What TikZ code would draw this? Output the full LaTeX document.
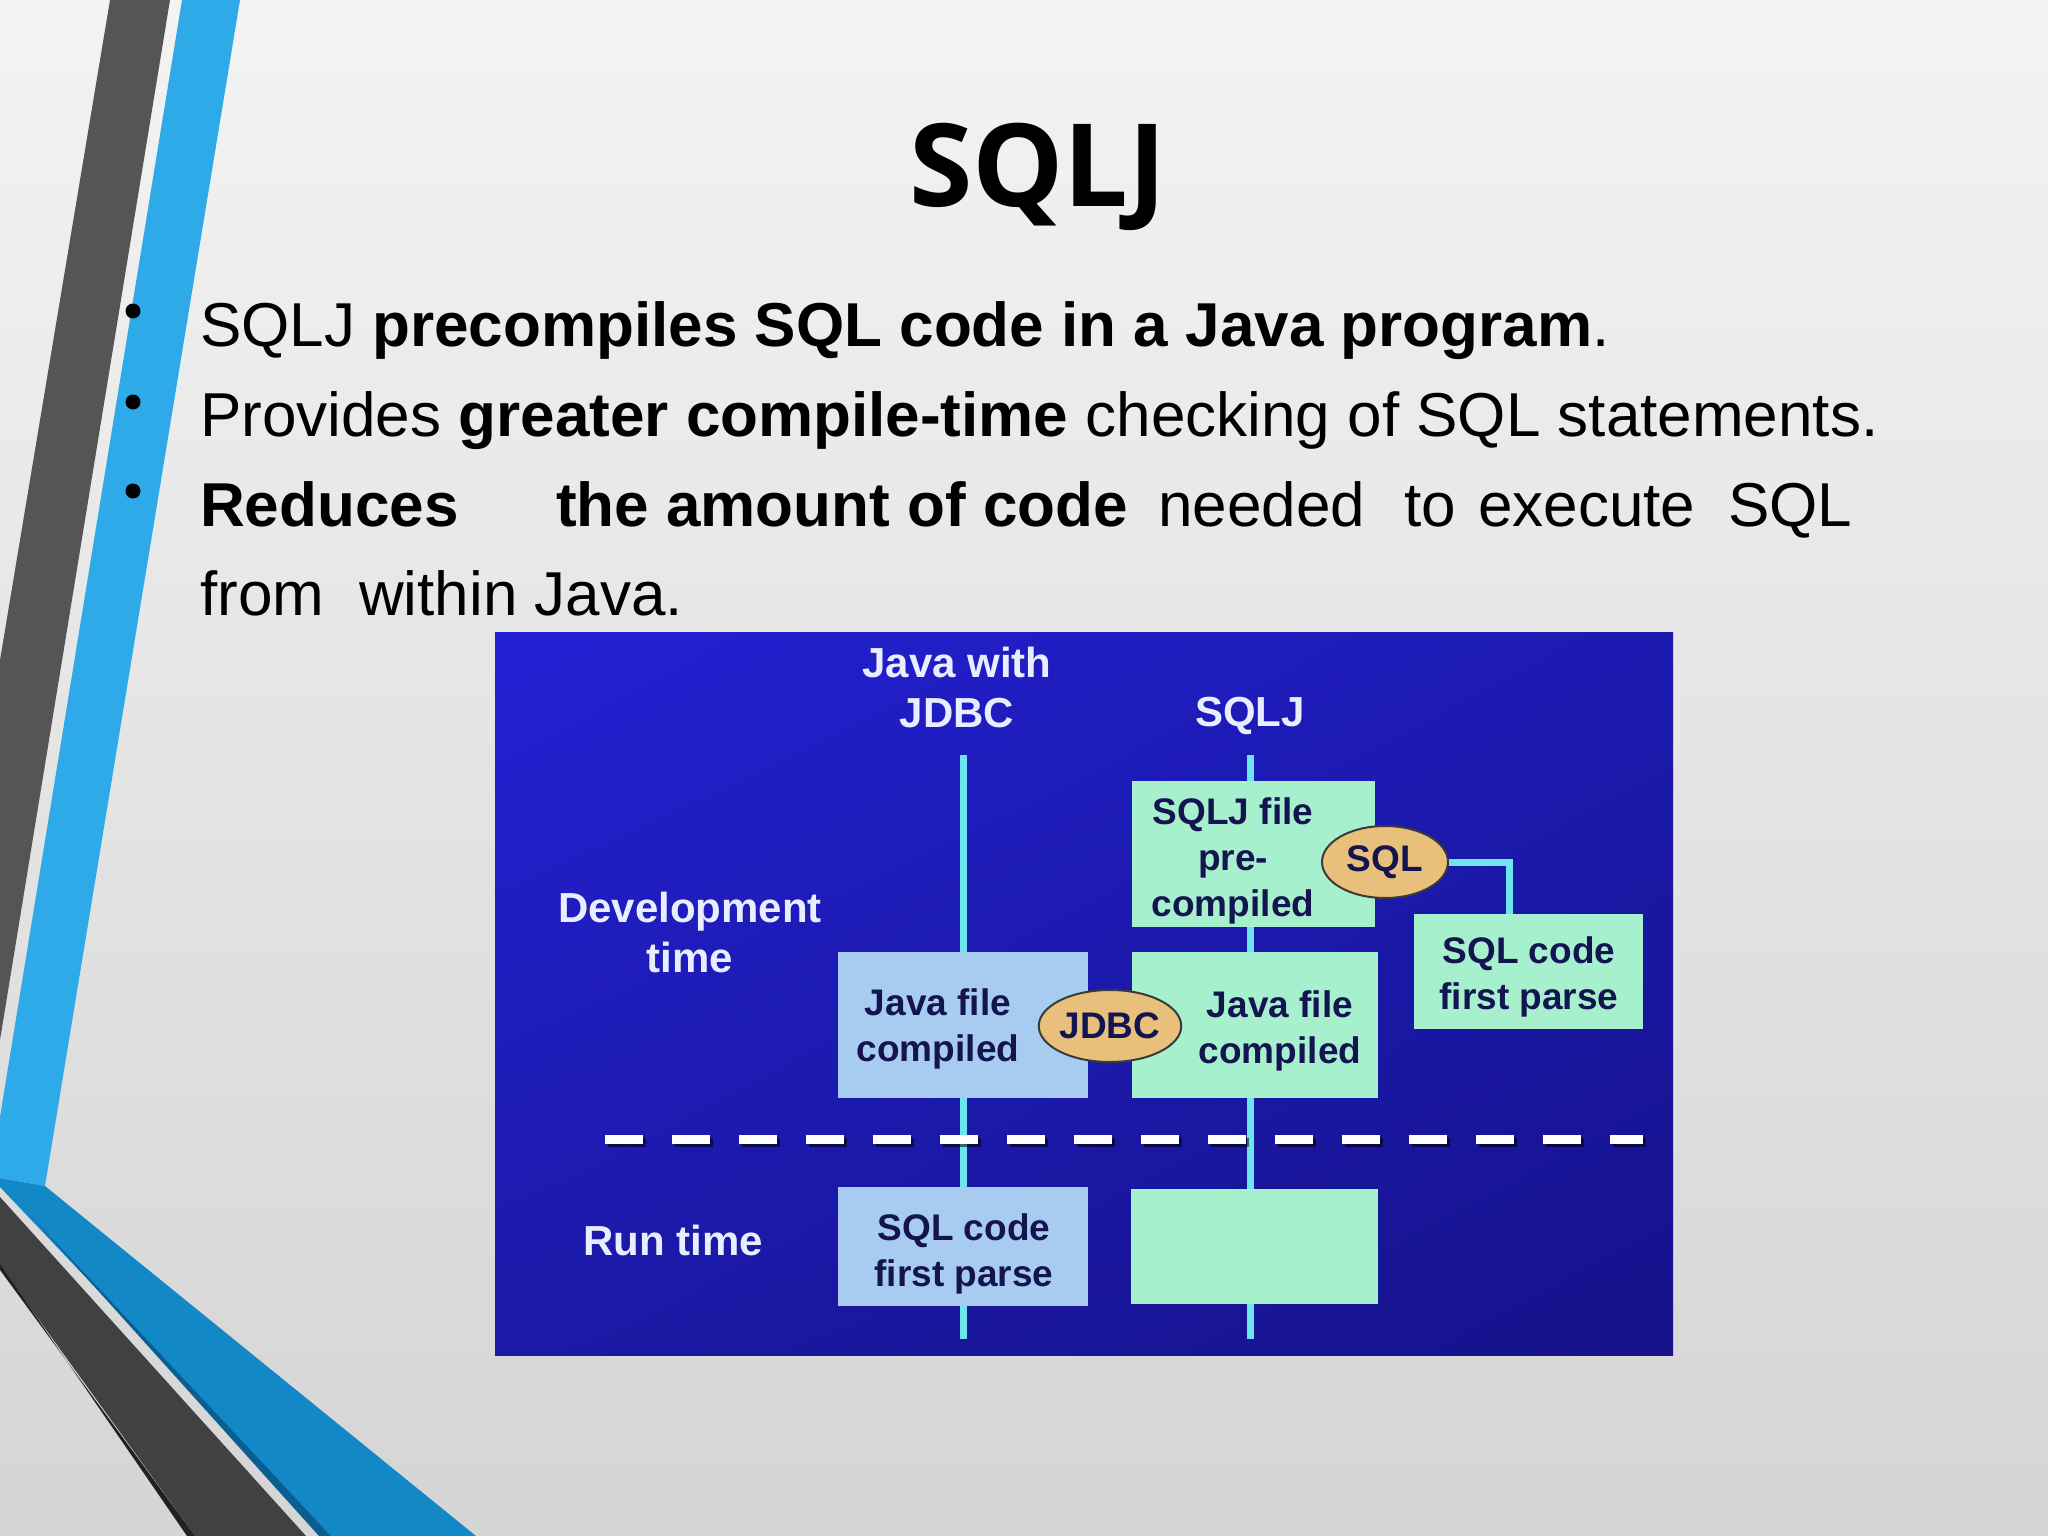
\documentclass[tikz,border=0pt]{standalone}
\usepackage{fontspec}
\setmainfont{Liberation Sans}
\newfontfamily\titlefont{Open Sans}
\usetikzlibrary{shapes.geometric,shadings}
\definecolor{bgtop}{HTML}{F3F3F3}
\definecolor{bgbot}{HTML}{D5D5D5}
\definecolor{darkband}{HTML}{555555}
\definecolor{lightblue}{HTML}{2FAAE8}
\definecolor{midblue}{HTML}{1288C6}
\definecolor{deepblue}{HTML}{0B5E90}
\definecolor{darkgray}{HTML}{414141}
\definecolor{darkest}{HTML}{222222}
\definecolor{boxgreen}{HTML}{A6F0CE}
\definecolor{boxblue}{HTML}{A8CCF0}
\definecolor{ovalfill}{HTML}{E8C07C}
\definecolor{ovalline}{HTML}{3A3A3A}
\definecolor{cyanline}{HTML}{6EE4EE}
\definecolor{navytext}{HTML}{141450}
\definecolor{headtext}{HTML}{E8EEFF}
\definecolor{dgtl}{HTML}{2321D4}
\definecolor{dgtr}{HTML}{1C1AB0}
\definecolor{dgbl}{HTML}{1B19A6}
\definecolor{dgbr}{HTML}{15128A}
\begin{document}
\begin{tikzpicture}[x=1pt,y=-1pt,
  headlbl/.style={text=headtext, font=\fontsize{42}{50}\selectfont\bfseries, align=center, inner sep=0pt},
  boxtxt/.style={text=navytext, font=\fontsize{37}{46}\selectfont\bfseries, align=center, inner sep=0pt},
  gbox/.style={fill=boxgreen, draw=none, inner sep=0pt},
  bbox/.style={fill=boxblue, draw=none, inner sep=0pt},
  oval/.style={ellipse, fill=ovalfill, draw=ovalline, line width=2pt, inner sep=0pt, text=navytext, font=\fontsize{37}{46}\selectfont\bfseries},
  conn/.style={cyanline, line width=7pt},
  bodytxt/.style={anchor=base west, inner sep=0pt, font=\fontsize{62}{89}\selectfont, text=black},
  bulletdot/.style={fill=black, draw=none}
]
\useasboundingbox (0,0) rectangle (2048,1536);
% background
\shade[top color=bgtop, bottom color=bgbot] (0,0) rectangle (2048,1536);
% left decorations
\fill[darkband] (110,0) -- (170,0) -- (0,1040) -- (0,660) -- cycle;
\fill[lightblue] (182,0) -- (240,0) -- (45,1186) -- (0,1178) -- (0,1117) -- cycle;
\fill[midblue] (0,1178) -- (45,1186) -- (476,1536) -- (331,1536) -- (0,1187) -- cycle;
\fill[deepblue] (30,1215) -- (331,1536) -- (319,1536) -- cycle;
\fill[darkgray] (0,1197) -- (306,1536) -- (195,1536) -- (0,1266) -- cycle;
\fill[darkest] (0,1264) -- (0,1270) -- (195,1536) -- (187,1536) -- cycle;

% title
\node[anchor=base, inner sep=0pt, font=\titlefont\bfseries\fontsize{115}{135}\selectfont] (title) at (1038,206) {SQLJ};

% bullets
\fill[bulletdot] (133,311) circle (7.5);
\fill[bulletdot] (133,402) circle (7.5);
\fill[bulletdot] (133,491) circle (7.5);
\node[bodytxt] (l1) at (200,346) {SQLJ \textbf{precompiles SQL code in a Java program}.};
\node[bodytxt] (l2) at (200,436) {Provides \textbf{greater compile-time} checking of SQL statements.};
\node[bodytxt] (l3a) at (200,526) {\textbf{Reduces}};
\node[bodytxt] (l3b) at (556,526) {\textbf{the amount of code}};
\node[bodytxt] (l3c) at (1158,526) {needed};
\node[bodytxt] (l3d) at (1404,526) {to};
\node[bodytxt] (l3e) at (1478,526) {execute};
\node[bodytxt] (l3f) at (1728,526) {SQL};
\node[bodytxt] (l4a) at (200,615) {from};
\node[bodytxt] (l4b) at (359,615) {within Java.};

% diagram panel
\shade[upper left=dgtl, upper right=dgtr, lower left=dgbl, lower right=dgbr] (495,632) rectangle (1673,1355);

% column headers and row labels
\node[headlbl] (hjdbc) at (957,687) {Java with\\JDBC};
\node[headlbl] (hsqlj) at (1250,716) {SQLJ};
\node[headlbl] (hdev) at (690,932) {Development\\time};
\node[headlbl] (hrun) at (673,1240) {Run time};

% vertical flow lines
\coordinate (jt) at (963,755);
\coordinate (jb) at (963,1339);
\coordinate (st) at (1250,755);
\coordinate (sb) at (1250,1339);
\draw[conn] (jt) -- (jb);
\draw[conn] (st) -- (sb);

% dashed divider
\coordinate (dl) at (605,1139);
\coordinate (dr) at (1643,1139);
\draw[black, opacity=0.55, line width=9pt, dash pattern=on 38pt off 29pt] ([shift={(3,3)}]dl) -- ([shift={(3,3)}]dr);
\draw[white, line width=9pt, dash pattern=on 38pt off 29pt] (dl) -- (dr);

% boxes
\node[gbox, minimum width=243pt, minimum height=146pt] (sqljbox) at (1253.5,854) {};
\node[boxtxt] (sqljtxt) at (1233,861) {SQLJ file\\pre-\\compiled};
\node[gbox, minimum width=229pt, minimum height=115pt] (sqlpr) at (1528.5,971.5) {};
\node[boxtxt] (sqlprtxt) at (1529,977) {SQL code\\first parse};
\node[bbox, minimum width=250pt, minimum height=146pt] (javab) at (963,1025) {};
\node[boxtxt] (javabtxt) at (938,1029) {Java file\\compiled};
\node[gbox, minimum width=246pt, minimum height=146pt] (javag) at (1255,1025) {};
\node[boxtxt] (javagtxt) at (1280,1031) {Java file\\compiled};
\node[bbox, minimum width=250pt, minimum height=119pt] (runb) at (963,1246.5) {};
\node[boxtxt] (runbtxt) at (964,1254) {SQL code\\first parse};
\node[gbox, minimum width=247pt, minimum height=115pt] (rung) at (1254.5,1246.5) {};

% ovals
\node[oval, minimum width=126pt, minimum height=72pt] (sqlell) at (1385,862) {SQL};
\node[oval, minimum width=126pt, minimum height=72pt] (jdbcell) at (1110,1026) {JDBC};

% connector SQL -> first parse
\draw[conn] (sqlell.east) -| ([xshift=-19pt]sqlpr.north);
\end{tikzpicture}
\end{document}
